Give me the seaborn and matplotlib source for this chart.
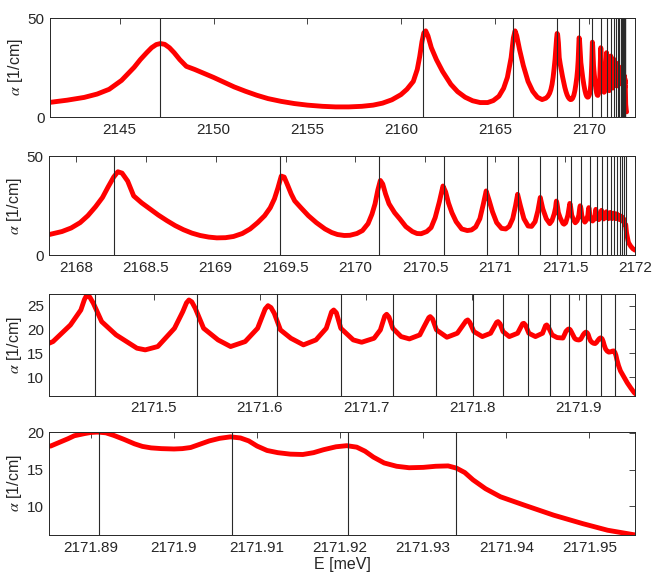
import numpy as np
import pandas as pd
import matplotlib
matplotlib.use("Agg")
import matplotlib.pyplot as plt
from matplotlib.ticker import FuncFormatter
import seaborn as sns

# ---------------- data ----------------
# (energy [meV], absorption [1/cm]) pairs, region by region
seg_wide_E = [
    2141.29, 2142.20, 2143.11, 2143.80, 2144.44, 2145.10, 2145.77, 2146.10, 2146.44,
    2146.70, 2146.95, 2147.17, 2147.40, 2147.65, 2147.90, 2148.20, 2148.55, 2149.00,
    2149.50, 2150.00, 2150.50, 2151.10, 2151.70, 2152.30, 2152.90, 2153.60, 2154.30,
    2155.00, 2155.80, 2156.50, 2157.20, 2157.90, 2158.50, 2159.00, 2159.50, 2159.98,
    2160.30, 2160.64, 2160.85, 2160.98, 2161.10, 2161.20, 2161.30, 2161.42, 2161.60,
    2161.87, 2162.20, 2162.64, 2163.00, 2163.40, 2163.80, 2164.20, 2164.60, 2164.90,
    2165.20, 2165.45, 2165.65, 2165.85, 2165.97, 2166.06, 2166.15, 2166.30, 2166.50,
    2166.75, 2167.00, 2167.25, 2167.50, 2167.70,
]
seg_wide_A = [
    7.4, 8.5, 9.9, 11.6, 14.0, 18.5, 25.1, 29.0, 32.5,
    35.0, 36.6, 37.1, 36.7, 35.0, 32.5, 29.0, 25.6, 24.0,
    22.0, 20.0, 17.8, 15.2, 13.0, 11.0, 9.3, 7.9, 6.8,
    6.0, 5.4, 5.1, 5.1, 5.4, 6.0, 7.0, 8.7, 11.3,
    14.0, 18.0, 24.0, 30.5, 38.0, 42.5, 43.5, 41.0, 35.0,
    29.0, 23.0, 16.5, 12.8, 10.0, 8.2, 7.3, 7.3, 8.3,
    10.5, 14.5, 20.0, 30.0, 40.0, 43.5, 41.0, 34.0, 26.0,
    18.0, 13.0, 10.0, 8.8, 9.5,
]
seg_mid_E = [
    2167.81, 2167.90, 2167.966, 2168.03, 2168.085, 2168.14, 2168.19, 2168.23, 2168.27,
    2168.30, 2168.33, 2168.37, 2168.413, 2168.47, 2168.532, 2168.59, 2168.651, 2168.71,
    2168.77, 2168.83, 2168.889, 2168.95, 2169.008, 2169.07, 2169.127, 2169.19, 2169.246,
    2169.30, 2169.35, 2169.39, 2169.42, 2169.445, 2169.469, 2169.49, 2169.514, 2169.54,
    2169.565, 2169.61, 2169.663, 2169.72, 2169.782, 2169.83, 2169.871, 2169.92, 2169.96,
    2170.01, 2170.05, 2170.09, 2170.118, 2170.14, 2170.16, 2170.178, 2170.195, 2170.215,
    2170.24, 2170.28, 2170.318, 2170.36, 2170.407, 2170.44, 2170.47, 2170.51, 2170.541,
    2170.57, 2170.60, 2170.626, 2170.645, 2170.665, 2170.69, 2170.72, 2170.76, 2170.80,
    2170.83, 2170.86, 2170.89, 2170.915, 2170.935, 2170.955, 2170.98, 2171.01, 2171.045,
    2171.075, 2171.10, 2171.125, 2171.145, 2171.16, 2171.18, 2171.205, 2171.235, 2171.26,
    2171.285, 2171.305, 2171.322, 2171.34, 2171.365, 2171.39,
]
seg_mid_A = [
    10.5, 12.0, 13.8, 16.5, 20.0, 24.5, 29.2, 34.5, 39.5,
    42.2, 41.5, 37.5, 30.0, 26.5, 23.3, 20.3, 17.5, 15.0,
    12.9, 11.2, 10.0, 9.2, 8.8, 8.9, 9.5, 11.0, 13.3,
    16.5, 20.0, 24.0, 28.5, 34.0, 40.0, 39.5, 35.5, 31.0,
    27.5, 24.0, 20.0, 16.5, 13.3, 11.5, 10.5, 10.0, 10.1,
    11.0, 12.5, 16.0, 20.8, 26.0, 33.0, 37.8, 36.0, 31.0,
    26.0, 21.5, 18.3, 14.5, 12.0, 11.0, 10.9, 12.0, 14.0,
    19.0, 27.0, 35.0, 32.0, 26.5, 21.5, 17.0, 13.3, 12.5,
    12.8, 14.3, 18.5, 26.0, 32.5, 28.0, 22.0, 16.5, 13.6,
    13.3, 14.6, 18.5, 25.0, 30.8, 25.0, 18.5, 14.8, 14.6,
    17.0, 22.5, 29.2, 23.5, 18.5, 16.0,
]
seg_fine_E = [
    2171.4054, 2171.4218, 2171.4316, 2171.4350, 2171.4375, 2171.4400, 2171.4434, 2171.4512,
    2171.4648, 2171.4844, 2171.4922, 2171.5040, 2171.5197, 2171.5275, 2171.5310, 2171.5333,
    2171.5360, 2171.5393, 2171.5471, 2171.5607, 2171.5725, 2171.5862, 2171.5979, 2171.6050,
    2171.6077, 2171.6105, 2171.6136, 2171.6194, 2171.6292, 2171.6410, 2171.6528, 2171.6625,
    2171.6675, 2171.6695, 2171.6720, 2171.6762, 2171.6879, 2171.6958, 2171.7075, 2171.7134,
    2171.7175, 2171.7193, 2171.7215, 2171.7251, 2171.7329, 2171.7407, 2171.7505, 2171.7545,
    2171.7590, 2171.7603, 2171.7625, 2171.7662, 2171.7760, 2171.7858, 2171.7940, 2171.7956,
    2171.7975, 2171.8014, 2171.8093, 2171.8171, 2171.8228, 2171.8241, 2171.8260, 2171.8288,
    2171.8347, 2171.8425, 2171.8472, 2171.8484, 2171.8500, 2171.8531, 2171.8593, 2171.8660,
    2171.8688, 2171.8699, 2171.8715, 2171.8750, 2171.8797,
]
seg_fine_A = [
    17.46, 20.95, 24.09, 26.30, 27.37, 26.80, 25.49, 21.65,
    18.86, 16.07, 15.72, 16.42, 20.25, 23.74, 25.60, 26.19,
    25.80, 24.44, 20.25, 17.81, 16.42, 17.46, 20.25, 24.30,
    25.00, 24.60, 23.39, 19.91, 18.16, 16.77, 17.81, 20.25,
    23.70, 24.09, 23.50, 20.25, 17.81, 17.32, 18.16, 19.91,
    22.80, 23.19, 22.60, 20.25, 18.51, 18.02, 18.86, 20.60,
    22.50, 22.70, 22.20, 19.91, 18.37, 19.21, 21.80, 22.00,
    21.50, 19.56, 18.51, 19.21, 21.50, 21.65, 21.20, 19.56,
    18.51, 19.21, 21.20, 21.30, 20.90, 19.21, 18.51, 19.21,
    20.80, 20.95, 20.50, 18.86, 18.30,
]
seg_edge_E = [
    2171.88515, 2171.8860, 2171.88725, 2171.8880, 2171.88925, 2171.8900, 2171.8908, 2171.8918,
    2171.89275, 2171.8940, 2171.89525, 2171.8962, 2171.89725, 2171.8985, 2171.9000, 2171.9010,
    2171.9020, 2171.9030, 2171.90425, 2171.9055, 2171.9068, 2171.9080, 2171.9090, 2171.9100,
    2171.9112, 2171.9125, 2171.9140, 2171.9155, 2171.9168, 2171.9180, 2171.9195, 2171.9208,
    2171.9220, 2171.9230, 2171.9240, 2171.9253, 2171.9268, 2171.9283, 2171.9300, 2171.9315,
    2171.9330, 2171.9340, 2171.9350, 2171.9360, 2171.9375, 2171.9393, 2171.9422, 2171.9457,
    2171.9492, 2171.9522, 2171.9553, 2171.9700, 2171.9850, 2172.0000,
]
seg_edge_A = [
    18.20, 18.60, 19.20, 19.60, 19.90, 20.05, 20.10, 20.00,
    19.65, 19.10, 18.50, 18.15, 17.95, 17.85, 17.80, 17.85,
    18.00, 18.40, 18.90, 19.25, 19.45, 19.30, 18.90, 18.20,
    17.60, 17.30, 17.10, 17.05, 17.30, 17.70, 18.10, 18.25,
    18.05, 17.50, 16.70, 15.90, 15.45, 15.25, 15.30, 15.45,
    15.50, 15.20, 14.60, 13.60, 12.40, 11.30, 10.15, 8.80,
    7.65, 6.75, 6.15, 4.50, 3.30, 2.60,
]

# resonance energies (vertical lines)
resonance_mev = [
    2147.17, 2161.17, 2165.97, 2168.27, 2169.46, 2170.17, 2170.63, 2170.94,
    2171.16, 2171.32, 2171.445, 2171.541, 2171.616, 2171.676, 2171.725, 2171.766,
    2171.801, 2171.829, 2171.852, 2171.873, 2171.891, 2171.907, 2171.921, 2171.934,
]

panel_xlims = [(2141.29, 2172.45), (2167.81, 2172.0), (2171.402, 2171.953), (2171.885, 2171.9555)]
panel_ylims = [(0, 50), (0, 50), (6.1, 27.4), (6.1, 20.15)]
panel_xticks = [
    [2145, 2150, 2155, 2160, 2165, 2170],
    [2168, 2168.5, 2169, 2169.5, 2170, 2170.5, 2171, 2171.5, 2172],
    [2171.5, 2171.6, 2171.7, 2171.8, 2171.9],
    [2171.89, 2171.90, 2171.91, 2171.92, 2171.93, 2171.94, 2171.95],
]
panel_yticks = [[0, 50], [0, 50], [10, 15, 20, 25], [10, 15, 20]]

y_label = r"$\alpha$ [1/cm]"
x_label = "E [meV]"

# ---------------- plotting ----------------
sns.set_style("white")
plt.rcParams["font.family"] = ["Liberation Sans", "DejaVu Sans"]
plt.rcParams["mathtext.fontset"] = "stix"

df = pd.DataFrame({
    "E": seg_wide_E + seg_mid_E + seg_fine_E + seg_edge_E,
    "alpha": seg_wide_A + seg_mid_A + seg_fine_A + seg_edge_A,
})

fig = plt.figure(figsize=(6.54, 5.83), dpi=100)
positions = [
    [0.0765, 0.7993, 0.8945, 0.1698],
    [0.0755, 0.5621, 0.8955, 0.1698],
    [0.0755, 0.3213, 0.8955, 0.1740],
    [0.0755, 0.0823, 0.8955, 0.1772],
]

def fmt(v, _pos):
    return f"{v:.2f}".rstrip("0").rstrip(".")

text_col = "#262626"
for k in range(4):
    ax = fig.add_axes(positions[k])
    sns.lineplot(data=df, x="E", y="alpha", ax=ax, color="#ff0000", linewidth=3.5,
                 sort=False, estimator=None, zorder=2)
    for e in resonance_mev:
        ax.axvline(e, color="#2a2a2a", linewidth=0.8, zorder=3)
    ax.set_xlim(*panel_xlims[k])
    ax.set_ylim(*panel_ylims[k])
    ax.set_xticks(panel_xticks[k])
    ax.set_yticks(panel_yticks[k])
    ax.xaxis.set_major_formatter(FuncFormatter(fmt))
    ax.tick_params(direction="in", top=True, right=True, length=4, width=0.6,
                   labelsize=11, colors=text_col, pad=4)
    for sp in ax.spines.values():
        sp.set_color(text_col)
        sp.set_linewidth(0.7)
    ax.set_ylabel(y_label, fontsize=11.5, color=text_col, labelpad=2)
    if k == 3:
        ax.set_xlabel(x_label, fontsize=11.5, color=text_col, labelpad=2)
    else:
        ax.set_xlabel("")

fig.savefig("out.png", dpi=100)
